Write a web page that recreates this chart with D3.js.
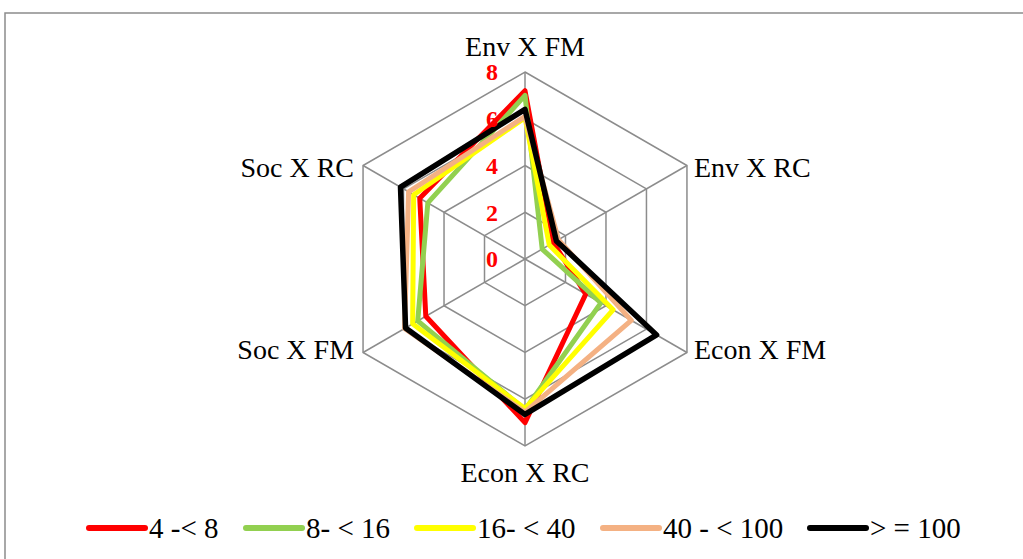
<!DOCTYPE html>
<html>
<head>
<meta charset="utf-8">
<script src="https://cdn.jsdelivr.net/npm/d3@7"></script>
<style>
  body { margin: 0; background: #fff; }
  svg { display: block; font-family: "Liberation Serif", "Times New Roman", serif; }
</style>
</head>
<body>
<svg id="chart" width="1023" height="559"></svg>
<script>
let width = 1023;
let height = 559;

// axes of the radar, clockwise from the top
let categories = ["Env X FM", "Env X RC", "Econ X FM", "Econ X RC", "Soc X FM", "Soc X RC"];
let seriesNames = ["4 -< 8", "8- < 16", "16- < 40", "40 - < 100", "> = 100"];
let seriesColors = ["#ff0000", "#92d050", "#ffff00", "#f4b183", "#000000"];
let ticks = [0, 2, 4, 6, 8];

let red    = [7.2, 1.4,  3.0,  7.0,  4.9,  5.2];
let green  = [7.0, 0.85, 3.75, 6.45, 5.3,  4.8];
let yellow = [6.05, 1.2, 4.35, 6.4,  5.55, 5.5];
let peach  = [6.1, 1.65, 5.25, 6.55, 5.95, 5.75];
let black  = [6.4, 1.55, 6.5,  6.65, 5.9,  6.15];
let series = [red, green, yellow, peach, black];

let cx = 525;
let cy = 259;
let radius = 187;

let svg = d3.select("#chart");

// outer chart frame (only top and left edge show)
svg.append("rect")
  .attr("x", 5).attr("y", 13)
  .attr("width", 1040).attr("height", 580)
  .attr("fill", "none")
  .attr("stroke", "#8c8c8c")
  .attr("stroke-width", 1.5);

let r = d3.scaleLinear().domain([0, 8]).range([0, radius]);
let angle = d3.scalePoint().domain(categories).range([0, 2 * Math.PI * 5 / 6]);

const pt = (cat, v) => {
  let a = angle(cat);
  return [cx + r(v) * Math.sin(a), cy - r(v) * Math.cos(a)];
};

let g = svg.append("g");

// hexagon rings
g.selectAll("path.ring")
  .data(ticks.slice(1))
  .enter()
  .append("path")
  .attr("class", "ring")
  .attr("d", t => d3.line()(categories.map(c => pt(c, t))) + "Z")
  .attr("fill", "none")
  .attr("stroke", "#8c8c8c")
  .attr("stroke-width", 1.5);

// spokes
g.selectAll("line.spoke")
  .data(categories)
  .enter()
  .append("line")
  .attr("class", "spoke")
  .attr("x1", cx).attr("y1", cy)
  .attr("x2", c => pt(c, 8)[0])
  .attr("y2", c => pt(c, 8)[1])
  .attr("stroke", "#8c8c8c")
  .attr("stroke-width", 1.5);

// series polygons
let radarLine = d3.line().curve(d3.curveLinearClosed);
g.selectAll("path.series")
  .data(series)
  .enter()
  .append("path")
  .attr("class", "series")
  .attr("d", s => radarLine(s.map((v, i) => pt(categories[i], v))))
  .attr("fill", "none")
  .attr("stroke", (s, i) => seriesColors[i])
  .attr("stroke-width", (s, i) => i === 4 ? 5.5 : 5)
  .attr("stroke-linejoin", "round");

// tick labels in red
g.selectAll("text.tick")
  .data(ticks)
  .enter()
  .append("text")
  .attr("class", "tick")
  .attr("x", cx - 27)
  .attr("y", t => cy - r(t))
  .attr("dy", "0.35em")
  .attr("text-anchor", "end")
  .attr("fill", "#ff0000")
  .attr("font-weight", "bold")
  .attr("font-size", 24)
  .text(d => d);

// category labels
const labelPos = c => {
  let a = angle(c);
  let [x, y] = pt(c, 8);
  let s = Math.sin(a), co = Math.cos(a);
  if (Math.abs(s) < 0.01) {
    return co > 0 ? {x: x, y: y - 16, anchor: "middle", dy: "0"} : {x: x, y: y + 36, anchor: "middle", dy: "0"};
  }
  return s > 0 ? {x: x + 7, y: y - 3 + (co < 0 ? 0 : 5), anchor: "start", dy: "0.35em"}
               : {x: x - 9, y: y - 3 + (co < 0 ? 0 : 5), anchor: "end", dy: "0.35em"};
};

g.selectAll("text.cat")
  .data(categories)
  .enter()
  .append("text")
  .attr("class", "cat")
  .attr("x", c => labelPos(c).x)
  .attr("y", c => labelPos(c).y)
  .attr("dy", c => labelPos(c).dy)
  .attr("text-anchor", c => labelPos(c).anchor)
  .attr("font-size", 28)
  .attr("fill", "#000")
  .text(c => c);

// legend
let legendX = [89, 246, 417, 603, 810];
let legend = svg.append("g");
let items = legend.selectAll("g")
  .data(seriesNames)
  .enter()
  .append("g")
  .attr("transform", (d, i) => `translate(${legendX[i]},528)`);

items.append("line")
  .attr("x1", 0).attr("x2", 56)
  .attr("stroke", (d, i) => seriesColors[i])
  .attr("stroke-width", 6)
  .attr("stroke-linecap", "round");

items.append("text")
  .attr("x", 60)
  .attr("dy", "0.35em")
  .attr("font-size", 29)
  .text(d => d);
</script>
</body>
</html>
